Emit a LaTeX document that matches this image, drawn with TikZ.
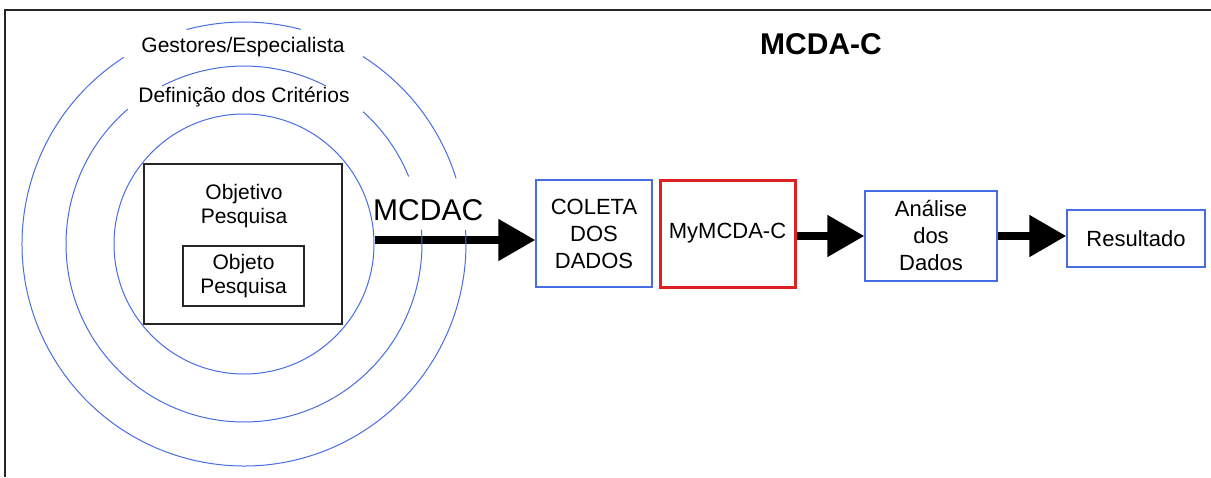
\documentclass[tikz,border=0pt]{standalone}
\usepackage{fontspec}
\setmainfont{Liberation Sans}
\usetikzlibrary{arrows.meta}
\definecolor{cblue}{RGB}{72,108,226}
\definecolor{cred}{RGB}{222,34,34}
\begin{document}
\begin{tikzpicture}[x=1pt,y=1pt,
  circ/.style={draw=cblue, line width=1pt},
  boxtxt/.style={align=center, inner sep=0pt, font=\fontsize{22}{27}\selectfont},
  bluebox/.style={boxtxt, draw=cblue, line width=1.3pt},
  redbox/.style={boxtxt, draw=cred, line width=3pt},
  blackbox/.style={draw=black!85, line width=1.3pt, inner sep=0pt},
  lbl/.style={inner sep=0pt, font=\fontsize{21}{24}\selectfont, align=center},
  bigarrow/.style={line width=8pt, -{Triangle[length=37pt,width=40pt]}},
  frame/.style={draw=black!85, line width=1.3pt}]
\useasboundingbox (0,0) rectangle (1211,-477);
% frame (top and left only)
\coordinate (fl) at (5,-477);
\coordinate (ftl) at (5,-10);
\coordinate (ftr) at (1211,-10);
\draw[frame] (fl) -- (ftl) -- (ftr);
% title
\node[inner sep=0pt, anchor=base west, font=\fontsize{30}{36}\selectfont\bfseries] (title) at (760,-54) {MCDA-C};
% inner circle and boxes
\coordinate (c) at (244,-244);
\node[circle, circ, minimum size=260pt, inner sep=0pt] (inner) at (c) {};
\node[blackbox, minimum width=198pt, minimum height=160pt] (objbox) at (243,-244) {};
\node[lbl] (objetivo) at (244,-206) {Objetivo\\Pesquisa};
\node[blackbox, lbl, minimum width=121pt, minimum height=60pt] (objeto) at (243.5,-276) {Objeto\\Pesquisa};
% process boxes
\node[bluebox, minimum width=116pt, minimum height=107pt] (coleta) at (594,-233.5) {COLETA\\DOS\\DADOS};
\node[redbox, minimum width=135pt, minimum height=107pt] (my) at (727.5,-233.5) {MyMCDA-C};
\node[bluebox, minimum width=132pt, minimum height=90pt] (analise) at (931,-236) {Análise\\dos\\Dados};
\node[bluebox, minimum width=138pt, minimum height=57pt] (result) at (1136,-238.5) {Resultado};
% arrows
\coordinate (a0) at ([yshift=4pt]inner.east);
\draw[bigarrow] (a0) -- (a0 -| coleta.west);
\draw[bigarrow] (my.east |- analise.west) -- (analise.west);
\draw[bigarrow] (analise.east) -- (analise.east -| result.west);
% label of main arrow
\node[inner sep=0pt, anchor=base west, font=\fontsize{30}{36}\selectfont] (mcdac) at (373,-220) {MCDAC};
% outer rings with gaps
\draw[circ] ([shift={(75.2:222)}]c) arc[start angle=75.2, end angle=105, radius=222];
\draw[circ] ([shift={(17.2:222)}]c) arc[start angle=17.2, end angle=57.6, radius=222];
\draw[circ] ([shift={(122.8:222)}]c) arc[start angle=122.8, end angle=363.6, radius=222];
\draw[circ] ([shift={(62.6:178)}]c) arc[start angle=62.6, end angle=117.4, radius=178];
\draw[circ] ([shift={(22.3:178)}]c) arc[start angle=22.3, end angle=48, radius=178];
\draw[circ] ([shift={(130.7:178)}]c) arc[start angle=130.7, end angle=364.6, radius=178];
% ring labels
\node[lbl, anchor=base] (gest) at (243,-52) {Gestores/Especialista};
\node[lbl, anchor=base] (def) at (244,-102) {Definição dos Critérios};
\end{tikzpicture}
\end{document}
